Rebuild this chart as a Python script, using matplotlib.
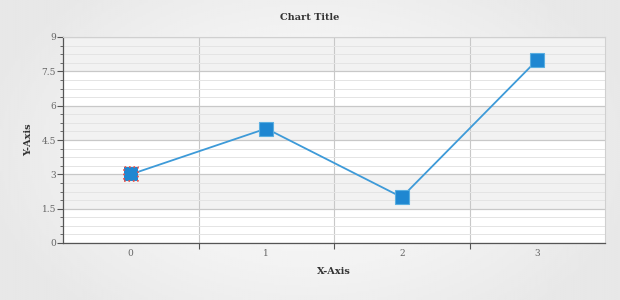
import matplotlib.pyplot as plt
import matplotlib.ticker as mticker
import numpy as np

categories = ['0', '1', '2', '3']
values = [3, 5, 2, 8]

serif = ['DejaVu Serif']
line_color = '#3d9ad8'
marker_color = '#1f87d1'

fig = plt.figure(figsize=(6.2, 3), dpi=100)

# background gradient (lighter in the middle)
bg = fig.add_axes([0, 0, 1, 1], zorder=-10)
xx = np.linspace(-1, 1, 300)
yy = np.linspace(-1, 1, 150)
X, Y = np.meshgrid(xx, yy)
r = np.clip(np.sqrt(X ** 2 * 0.9 + Y ** 2 * 0.5), 0, 1)
bg.imshow(1 - 0.09 * r, cmap='gray', vmin=0, vmax=1, aspect='auto', extent=[0, 1, 0, 1])
bg.axis('off')

ax = fig.add_axes([63 / 620, 1 - 243 / 300, 542 / 620, 206 / 300])
ax.set_facecolor('white')

x = np.arange(len(categories))
ax.set_xlim(-0.5, len(categories) - 0.5)
ax.set_ylim(0, 9)

# alternating bands
for lo in np.arange(0, 9, 1.5):
    if int(round(lo / 1.5)) % 2 == 1:
        ax.axhspan(lo, lo + 1.5, color='#f2f2f2', zorder=0, lw=0)

ax.yaxis.set_major_locator(mticker.MultipleLocator(1.5))
ax.yaxis.set_minor_locator(mticker.MultipleLocator(0.375))
ax.yaxis.set_major_formatter(mticker.FuncFormatter(lambda v, p: ('%g' % v)))
ax.grid(which='major', axis='y', color='#c8c8c8', lw=0.9, zorder=1)
ax.grid(which='minor', axis='y', color='#e4e4e4', lw=0.7, zorder=1)

ax.set_xticks(x)
ax.set_xticklabels(categories)
ax.set_xticks(x[:-1] + 0.5, minor=True)
ax.grid(which='minor', axis='x', color='#c8c8c8', lw=0.8, zorder=1)

ax.plot(x, values, color=line_color, lw=1.3, zorder=3)
ax.plot(x[1:], values[1:], 's', color=marker_color, ms=10,
        mec='#5aaee0', mew=0.8, zorder=4)
# first point is highlighted with a dotted red outline
ax.scatter(x[:1], values[:1], marker='s', s=100, c=marker_color,
           edgecolors='#e8504a', linewidths=1.2, linestyles=':', zorder=5)

for s in ['top', 'right']:
    ax.spines[s].set_color('#d0d0d0')
    ax.spines[s].set_linewidth(0.8)
for s in ['left', 'bottom']:
    ax.spines[s].set_color('#555555')
    ax.spines[s].set_linewidth(0.9)

ax.tick_params(axis='y', which='major', length=4, width=0.8, color='#555555',
               labelsize=6.5, labelcolor='#666666', pad=1)
ax.tick_params(axis='y', which='minor', length=2, width=0.6, color='#555555')
ax.tick_params(axis='x', which='major', length=0, labelsize=6.5,
               labelcolor='#666666', pad=4)
ax.tick_params(axis='x', which='minor', length=4, width=0.8, color='#555555')
for lbl in ax.get_xticklabels() + ax.get_yticklabels():
    lbl.set_family(serif)

ax.set_xlabel('X-Axis', family=serif, fontsize=7, fontweight='bold',
              color='#333333', labelpad=7)
ax.set_ylabel('Y-Axis', family=serif, fontsize=7, fontweight='bold',
              color='#333333', labelpad=6)
fig.text(0.5, 1 - 18 / 300, 'Chart Title', family=serif, fontsize=7,
         fontweight='bold', color='#333333', ha='center', va='center')

fig.savefig('out.png', dpi=100)
